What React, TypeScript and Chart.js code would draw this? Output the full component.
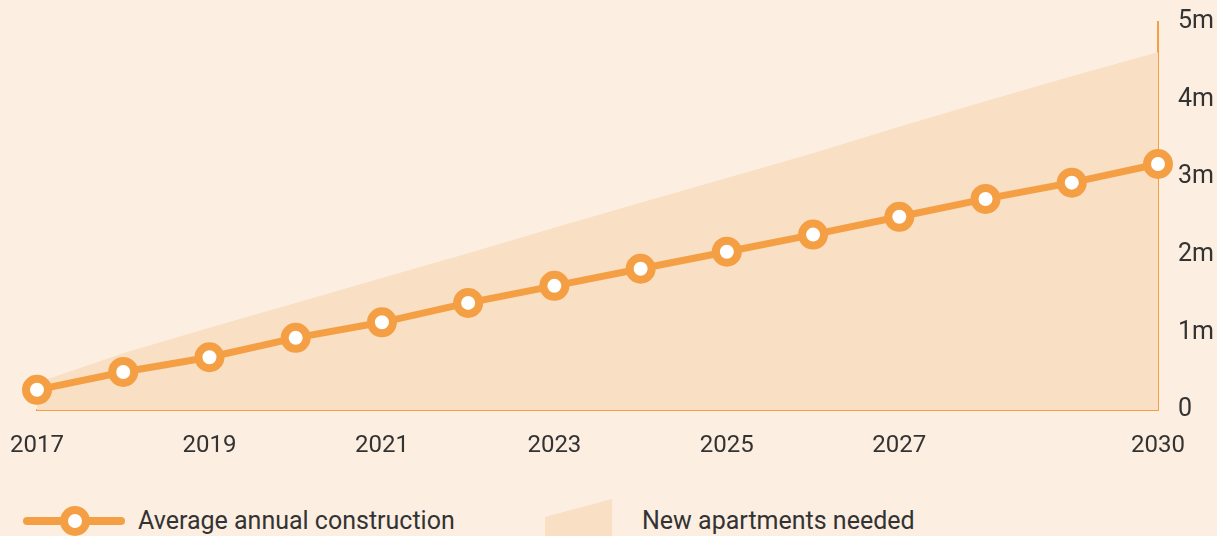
import React, { useEffect, useRef } from "react";
import { Chart, registerables } from "chart.js";

Chart.register(...registerables);

const years = ["2017", "2018", "2019", "2020", "2021", "2022", "2023", "2024", "2025", "2026", "2027", "2028", "2029", "2030"];
const construction = [0.26, 0.49, 0.68, 0.93, 1.13, 1.38, 1.6, 1.82, 2.04, 2.26, 2.49, 2.72, 2.93, 3.17];
const needed = [0.35, 0.73, 1.06, 1.38, 1.7, 2.02, 2.35, 2.67, 2.99, 3.31, 3.65, 3.98, 4.3, 4.61];
const xTickLabels = ["2017", "", "2019", "", "2021", "", "2023", "", "2025", "", "2027", "", "", "2030"];
const yTickValues = [0, 1, 2, 3, 4, 5];
const yTickLabels = ["0", "1m", "2m", "3m", "4m", "5m"];
const legendLabels = ["Average annual construction", "New apartments needed"];

const BG = "#FCEEE1";
const AREA = "#F9DFC3";
const ORANGE = "#F59F45";
const TEXT = "#333333";
const FONT = "Roboto, 'Liberation Sans', sans-serif";

export default function App() {
  const ref = useRef<HTMLCanvasElement | null>(null);

  useEffect(() => {
    document.body.style.margin = "0";
    document.body.style.background = BG;
    let chart: Chart | null = null;
    let cancelled = false;
    const make = () => {
      if (cancelled || !ref.current) return;
      chart = new Chart(ref.current, {
        type: "line",
        data: {
          labels: years,
          datasets: [
            {
              label: legendLabels[0],
              data: construction,
              borderColor: ORANGE,
              borderWidth: 7,
              pointRadius: 11,
              pointHoverRadius: 11,
              pointBorderWidth: 8,
              pointBackgroundColor: "#FFFFFF",
              pointBorderColor: ORANGE,
              fill: false,
              tension: 0,
              clip: false as any,
            },
            {
              label: legendLabels[1],
              data: needed,
              borderWidth: 0,
              borderColor: "rgba(0,0,0,0)",
              backgroundColor: AREA,
              pointRadius: 0,
              fill: "origin",
              tension: 0,
            },
          ],
        },
        options: {
          responsive: false,
          animation: false,
          events: [],
          layout: { padding: { left: 37, top: 22, right: 0, bottom: 10 } },
          plugins: { legend: { display: false }, tooltip: { enabled: false } },
          scales: {
            x: {
              type: "category",
              offset: false,
              grid: { display: false, drawTicks: false },
              border: { display: true, color: ORANGE, width: 2 },
              ticks: {
                autoSkip: false,
                maxRotation: 0,
                padding: 22,
                color: TEXT,
                font: { family: FONT, size: 24 },
                callback: (_v: any, i: number) => xTickLabels[i],
              },
              afterFit: (s: any) => {
                s.height = 50;
                s.paddingLeft = 0;
                s.paddingRight = 0;
              },
            },
            y: {
              position: "right",
              min: 0,
              max: 5,
              grid: { display: false, drawTicks: false },
              border: { display: true, color: ORANGE, width: 2 },
              afterBuildTicks: (s: any) => {
                s.ticks = yTickValues.map((v) => ({ value: v }));
              },
              ticks: {
                padding: 20,
                color: TEXT,
                font: { family: FONT, size: 25 },
                callback: (v: any) => {
                  const i = yTickValues.indexOf(Number(v));
                  return i >= 0 ? yTickLabels[i] : "";
                },
              },
              afterFit: (s: any) => {
                s.width = 59;
                s.paddingTop = 0;
                s.paddingBottom = 0;
              },
            },
          },
        },
      });
    };
    const fontsReady = (document as any).fonts
      ? (document as any).fonts.load("24px Roboto").catch(() => null)
      : Promise.resolve();
    Promise.resolve(fontsReady).then(make);
    return () => {
      cancelled = true;
      if (chart) chart.destroy();
    };
  }, []);

  const legendText: React.CSSProperties = {
    position: "absolute",
    top: 505,
    fontFamily: FONT,
    fontSize: 25,
    lineHeight: "32px",
    color: TEXT,
    whiteSpace: "nowrap",
  };

  return (
    <div style={{ position: "relative", width: 1217, height: 536, background: BG, overflow: "hidden" }}>
      <canvas ref={ref} width={1217} height={470} style={{ position: "absolute", left: 0, top: 0 }} />
      <svg width={1217} height={66} style={{ position: "absolute", left: 0, top: 470 }}>
        <line x1={27} y1={51} x2={121} y2={51} stroke={ORANGE} strokeWidth={8} strokeLinecap="round" />
        <circle cx={75} cy={51} r={11} fill="#FFFFFF" stroke={ORANGE} strokeWidth={8} />
        <polygon points="545,47 612,29 612,66 545,66" fill={AREA} />
      </svg>
      <div style={{ ...legendText, left: 138 }}>{legendLabels[0]}</div>
      <div style={{ ...legendText, left: 642 }}>{legendLabels[1]}</div>
    </div>
  );
}
